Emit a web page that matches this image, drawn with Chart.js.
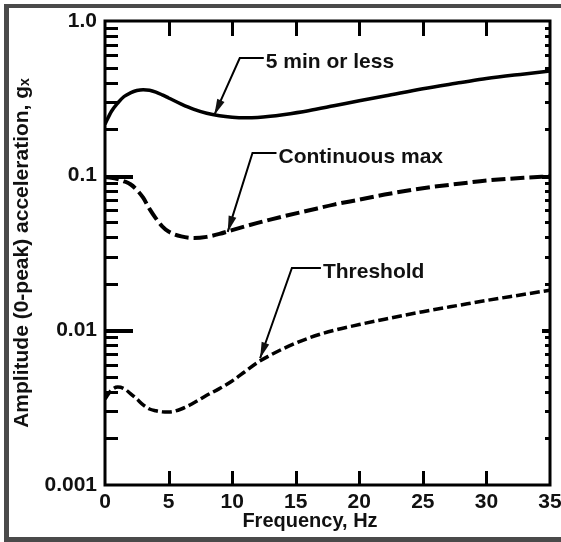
<!DOCTYPE html>
<html>
<head>
<meta charset="utf-8">
<script src="https://cdn.jsdelivr.net/npm/chart.js@4.4.1/dist/chart.umd.min.js"></script>
<style>
    html, body { margin: 0; padding: 0; background: #fff; }
    #wrap { position: relative; width: 561px; height: 542px; }
</style>
</head>
<body>
<div id="wrap"><canvas id="chart" width="561" height="542"></canvas></div>
<script>
// frequency points (Hz) shared by the three curves
const freqHz = [0, 0.5, 1, 1.5, 2, 2.5, 3, 3.5, 4, 4.5, 5, 6, 7, 8, 9, 10, 11, 12, 13, 14, 16, 18, 20, 22, 25, 28, 30, 33, 35];

// amplitude, g (0-peak)
const fiveMinOrLess = [0.215, 0.26, 0.295, 0.325, 0.343, 0.355, 0.36, 0.357, 0.347, 0.333, 0.318, 0.29, 0.268, 0.253, 0.244, 0.239, 0.237, 0.238, 0.242, 0.248, 0.263, 0.283, 0.305, 0.327, 0.365, 0.4, 0.425, 0.455, 0.475];
const continuousMax = [0.098, 0.097, 0.095, 0.092, 0.088, 0.081, 0.072, 0.061, 0.053, 0.047, 0.0435, 0.0405, 0.0395, 0.0402, 0.042, 0.0445, 0.047, 0.0495, 0.052, 0.0545, 0.0595, 0.065, 0.070, 0.0755, 0.083, 0.089, 0.093, 0.097, 0.099];
const threshold = [0.0036, 0.0041, 0.0043, 0.0042, 0.0039, 0.0036, 0.0033, 0.0031, 0.00302, 0.00297, 0.00296, 0.0031, 0.0034, 0.0038, 0.0042, 0.0047, 0.0054, 0.0062, 0.0069, 0.0076, 0.0089, 0.0100, 0.0109, 0.0118, 0.0132, 0.0146, 0.0156, 0.0171, 0.0182];

const xTicks = [0, 5, 10, 15, 20, 25, 30, 35];
const yTickLabels = ['0.001', '0.01', '0.1', '1.0'];
const yDecades = [0.001, 0.01, 0.1];
const yMultiples = [2, 3, 4, 5, 6, 7, 8, 9];

const seriesNames = ['5 min or less', 'Continuous max', 'Threshold'];
// leader lines: point on the curve, then elbow (data units)
const labelTip = [[8.6, 0.247], [9.65, 0.0433], [12.2, 0.0066]];
const labelElbow = [[10.6, 0.576], [11.6, 0.14], [14.7, 0.0253]];

const toXY = (vals) => freqHz.map((f, i) => ({ x: f, y: vals[i] }));

const isDecade = (v) => {
    const l = Math.log10(v);
    return Math.abs(l - Math.round(l)) < 1e-6;
};

const boxPlugin = {
    id: 'box',
    beforeDraw(chart) {
        const ctx = chart.ctx;
        ctx.save();
        // scanned frame
        ctx.fillStyle = '#4a4a4a';
        ctx.fillRect(4, 4, 557, 4);
        ctx.fillRect(4, 4, 5, 538);
        ctx.fillRect(4, 537, 557, 5);
        ctx.restore();
    },
    afterDraw(chart) {
        const ctx = chart.ctx;
        const a = chart.chartArea;
        const xs = chart.scales.x;
        const ys = chart.scales.y;
        ctx.save();
        ctx.setLineDash([]);
        ctx.strokeStyle = '#000';
        ctx.fillStyle = '#000';
        ctx.lineWidth = 3;
        ctx.strokeRect(a.left, a.top, a.right - a.left, a.bottom - a.top);

        // x ticks, inward top and bottom
        xTicks.slice(1, -1).forEach(v => {
            const px = Math.round(xs.getPixelForValue(v));
            ctx.fillRect(px - 1, a.bottom - 14, 3, 14);
            ctx.fillRect(px - 1, a.top, 3, 15);
        });

        // y ticks: decades (major) and 2..9 multiples (minor)
        const tickAt = (v, major) => {
            const py = Math.round(ys.getPixelForValue(v));
            const h = major ? 4 : 3;
            ctx.fillRect(a.left, py - 1, major ? 28 : 13, h);
            ctx.fillRect(a.right - (major ? 8 : 5), py - 1, major ? 8 : 5, h);
        };
        yDecades.forEach((d, i) => {
            if (i > 0) tickAt(d, true);
            yMultiples.forEach(m => tickAt(d * m, false));
        });

        // leader lines and series names
        ctx.font = 'bold 21px "Liberation Sans", Arial, sans-serif';
        ctx.fillStyle = '#111';
        ctx.textBaseline = 'middle';
        seriesNames.forEach((name, i) => {
            const tx = xs.getPixelForValue(labelTip[i][0]);
            const ty = ys.getPixelForValue(labelTip[i][1]);
            const ex = xs.getPixelForValue(labelElbow[i][0]);
            const ey = ys.getPixelForValue(labelElbow[i][1]);
            const hx = ex + (i === 2 ? 29 : 24);
            ctx.lineWidth = 2;
            ctx.beginPath();
            ctx.moveTo(tx, ty);
            ctx.lineTo(ex, ey);
            ctx.lineTo(hx, ey);
            ctx.stroke();
            // arrow head at the curve
            const ang = Math.atan2(ty - ey, tx - ex);
            ctx.beginPath();
            ctx.moveTo(tx, ty);
            ctx.lineTo(tx - 16 * Math.cos(ang) + 4 * Math.sin(ang), ty - 16 * Math.sin(ang) - 4 * Math.cos(ang));
            ctx.lineTo(tx - 16 * Math.cos(ang) - 4 * Math.sin(ang), ty - 16 * Math.sin(ang) + 4 * Math.cos(ang));
            ctx.closePath();
            ctx.fill();
            ctx.fillText(name, hx + 2, ey + 4);
        });

        // x axis title
        ctx.textAlign = 'center';
        ctx.font = 'bold 20px "Liberation Sans", Arial, sans-serif';
        ctx.fillText('Frequency, Hz', 310, 521);
        ctx.restore();
    }
};

new Chart(document.getElementById('chart'), {
    type: 'line',
    data: {
        datasets: [
            {
                label: seriesNames[0],
                data: toXY(fiveMinOrLess),
                borderColor: '#000',
                borderWidth: 3.5,
                pointRadius: 0,
                cubicInterpolationMode: 'monotone'
            },
            {
                label: seriesNames[1],
                data: toXY(continuousMax),
                borderColor: '#000',
                borderWidth: 4,
                borderDash: [14, 5],
                pointRadius: 0,
                cubicInterpolationMode: 'monotone'
            },
            {
                label: seriesNames[2],
                data: toXY(threshold),
                borderColor: '#000',
                borderWidth: 3.5,
                borderDash: [10, 4],
                pointRadius: 0,
                cubicInterpolationMode: 'monotone'
            }
        ]
    },
    options: {
        responsive: false,
        animation: false,
        layout: { padding: { left: 0, right: 11, top: 21, bottom: 0 } },
        plugins: {
            legend: { display: false },
            tooltip: { enabled: false }
        },
        scales: {
            x: {
                type: 'linear',
                min: 0,
                max: 35,
                grid: { display: false, drawTicks: false },
                border: { display: false },
                ticks: {
                    stepSize: 5,
                    padding: 5,
                    color: '#111',
                    maxRotation: 0,
                    font: { family: '"Liberation Sans", Arial, sans-serif', size: 21, weight: 'bold' }
                },
                afterFit(scale) {
                    scale.height = 57;
                    scale.paddingLeft = 0;
                    scale.paddingRight = 0;
                }
            },
            y: {
                type: 'logarithmic',
                min: 0.001,
                max: 1,
                grid: { display: false, drawTicks: false },
                border: { display: false },
                ticks: {
                    autoSkip: false,
                    padding: 8,
                    color: '#111',
                    font: { family: '"Liberation Sans", Arial, sans-serif', size: 21, weight: 'bold' },
                    callback: (v) => isDecade(v) ? yTickLabels[Math.round(Math.log10(v)) + 3] : ''
                },
                title: {
                    display: true,
                    text: 'Amplitude (0-peak) acceleration, gₓ',
                    color: '#111',
                    padding: { top: 10, bottom: 0 },
                    font: { family: '"Liberation Sans", Arial, sans-serif', size: 21, weight: 'bold' }
                },
                afterFit(scale) {
                    scale.width = 105;
                    scale.paddingTop = 0;
                    scale.paddingBottom = 0;
                }
            }
        }
    },
    plugins: [boxPlugin]
});
</script>
</body>
</html>
